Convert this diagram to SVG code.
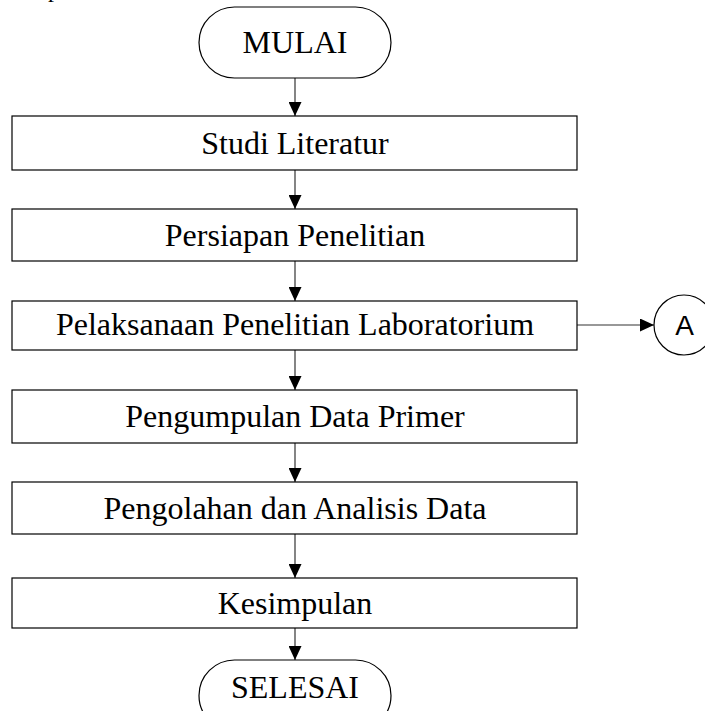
<svg xmlns="http://www.w3.org/2000/svg" width="705" height="711" viewBox="0 0 705 711">
<style>
.box{fill:#fff;stroke:#000;stroke-width:1.2}
.lbl{font-family:"Liberation Serif","Times New Roman",serif;font-size:32px;fill:#000;text-anchor:middle}
.con{stroke:#333;stroke-width:1.2;fill:none}
.sans{font-family:"Liberation Sans",Arial,sans-serif;font-size:28px;fill:#000;text-anchor:middle}
</style>
<defs>
<marker id="ah" viewBox="0 0 14 13" refX="14" refY="6.5" markerWidth="14" markerHeight="13" markerUnits="userSpaceOnUse" orient="auto">
<path d="M0,0 L14,6.5 L0,13 Z" fill="#000"/>
</marker>
</defs>
<rect width="705" height="711" fill="#fff"/>
<text x="48" y="-3" font-family="Liberation Serif, serif" font-size="24" fill="#000">p</text>
<g id="connectors">
<line class="con" x1="295" y1="78" x2="295" y2="116" marker-end="url(#ah)"/>
<line class="con" x1="295" y1="170" x2="295" y2="209" marker-end="url(#ah)"/>
<line class="con" x1="295" y1="261" x2="295" y2="301" marker-end="url(#ah)"/>
<line class="con" x1="295" y1="350" x2="295" y2="390" marker-end="url(#ah)"/>
<line class="con" x1="295" y1="443" x2="295" y2="482" marker-end="url(#ah)"/>
<line class="con" x1="295" y1="534" x2="295" y2="578" marker-end="url(#ah)"/>
<line class="con" x1="295" y1="628" x2="295" y2="660" marker-end="url(#ah)"/>
<line class="con" x1="577" y1="325" x2="654" y2="325" marker-end="url(#ah)"/>
</g>
<g id="mulai">
<rect class="box" x="199" y="7" width="192" height="71" rx="35.5" ry="35.5"/>
<text class="lbl" x="295" y="53">MULAI</text>
</g>
<g id="studi">
<rect class="box" x="12" y="116" width="565" height="54"/>
<text class="lbl" x="295" y="153.5">Studi Literatur</text>
</g>
<g id="persiapan">
<rect class="box" x="12" y="209" width="565" height="52"/>
<text class="lbl" x="295" y="245.5">Persiapan Penelitian</text>
</g>
<g id="pelaksanaan">
<rect class="box" x="12" y="301" width="565" height="49"/>
<text class="lbl" x="295" y="335">Pelaksanaan Penelitian Laboratorium</text>
</g>
<g id="pengumpulan">
<rect class="box" x="12" y="390" width="565" height="53"/>
<text class="lbl" x="295" y="427">Pengumpulan Data Primer</text>
</g>
<g id="pengolahan">
<rect class="box" x="12" y="482" width="565" height="52"/>
<text class="lbl" x="295" y="518.5">Pengolahan dan Analisis Data</text>
</g>
<g id="kesimpulan">
<rect class="box" x="12" y="578" width="565" height="50"/>
<text class="lbl" x="295" y="613.5">Kesimpulan</text>
</g>
<g id="selesai">
<rect class="box" x="199" y="660" width="192" height="71" rx="35.5" ry="35.5"/>
<text class="lbl" x="295" y="698">SELESAI</text>
</g>
<g id="connector-a">
<circle class="box" cx="684" cy="325" r="30"/>
<text class="sans" x="684.5" y="335">A</text>
</g>
</svg>
